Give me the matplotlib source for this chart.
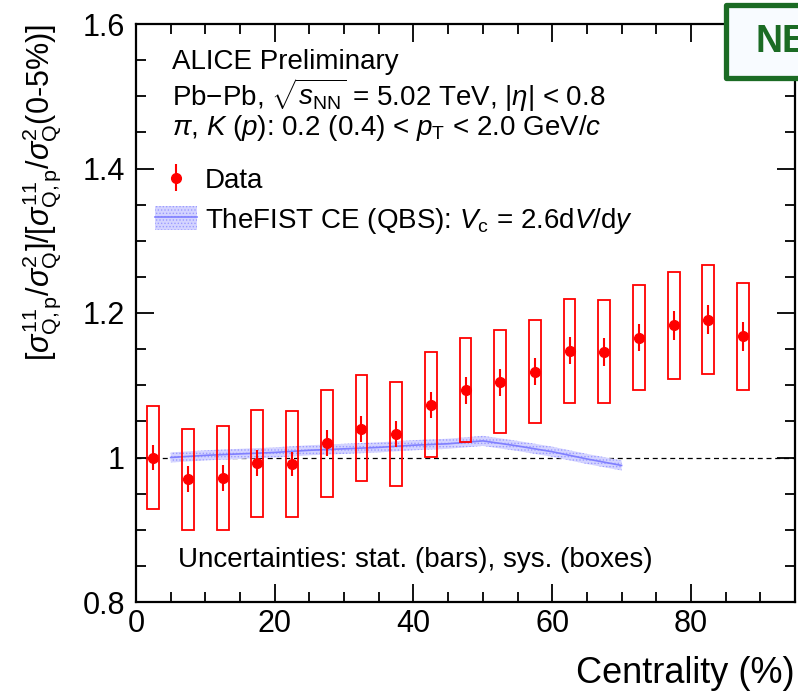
import matplotlib
matplotlib.use("Agg")
import matplotlib.pyplot as plt
import numpy as np
from matplotlib.patches import Rectangle, Patch
from matplotlib.lines import Line2D
from matplotlib.ticker import MultipleLocator

plt.rcParams['font.family'] = ['Liberation Sans', 'DejaVu Sans']
plt.rcParams['mathtext.fontset'] = 'custom'
plt.rcParams['mathtext.rm'] = 'Liberation Sans'
plt.rcParams['mathtext.it'] = 'Liberation Sans:italic'
plt.rcParams['mathtext.bf'] = 'Liberation Sans:bold'
plt.rcParams['hatch.linewidth'] = 0.6

# data
cent = [2.5, 7.5, 12.5, 17.5, 22.5, 27.5, 32.5, 37.5, 42.5,
        47.5, 52.5, 57.5, 62.5, 67.5, 72.5, 77.5, 82.5, 87.5]
ratio = [1.000, 0.970, 0.972, 0.992, 0.991, 1.020, 1.040, 1.033, 1.073,
         1.093, 1.104, 1.119, 1.148, 1.146, 1.166, 1.183, 1.191, 1.168]
stat = [0.017, 0.018, 0.018, 0.018, 0.017, 0.018, 0.018, 0.018, 0.018,
        0.019, 0.019, 0.019, 0.019, 0.019, 0.019, 0.020, 0.020, 0.020]
sys_hi = [1.071, 1.040, 1.044, 1.066, 1.064, 1.094, 1.114, 1.105, 1.146,
          1.165, 1.176, 1.190, 1.219, 1.218, 1.239, 1.257, 1.266, 1.241]
sys_lo = [0.929, 0.899, 0.900, 0.918, 0.918, 0.945, 0.967, 0.961, 1.001,
          1.021, 1.034, 1.048, 1.076, 1.075, 1.093, 1.109, 1.116, 1.093]

# TheFIST CE (QBS) band
model_x = [5, 10, 15, 20, 25, 30, 35, 40, 45, 50, 55, 60, 65, 70]
model_y = [1.000, 1.003, 1.005, 1.007, 1.010, 1.012, 1.014, 1.017, 1.019,
           1.023, 1.016, 1.008, 0.998, 0.989]
model_err = 0.007

red = '#ff0000'
blue = '#8080ff'
band_face = '#d4d4ff'
band_dots = '#9a9aff'
green = '#1b6b24'

fig = plt.figure(figsize=(7.98, 6.92), dpi=100)
ax = fig.add_axes([136/798, 90/692, 659/798, 578/692])

ax.axhline(1.0, color='black', ls=(0, (4, 3)), lw=0.9, zorder=1)

my = np.array(model_y)
ax.fill_between(model_x, my - model_err, my + model_err, facecolor=band_face,
                edgecolor=band_dots, hatch='.....', lw=0, zorder=2)
ax.plot(model_x, model_y, color=blue, lw=1.2, zorder=3)

boxw = 0.85
for c, lo, hi in zip(cent, sys_lo, sys_hi):
    ax.add_patch(Rectangle((c - boxw, lo), 2 * boxw, hi - lo, fill=False,
                           edgecolor=red, lw=1.3, zorder=4))
eb = ax.errorbar(cent, ratio, yerr=stat, fmt='o', color=red, ms=7,
                 elinewidth=1.5, capsize=0, zorder=5)

ax.set_xlim(0, 95)
ax.set_ylim(0.8, 1.6)
ax.xaxis.set_major_locator(MultipleLocator(20))
ax.xaxis.set_minor_locator(MultipleLocator(5))
ax.yaxis.set_minor_locator(MultipleLocator(0.05))
ax.set_yticks([0.8, 1.0, 1.2, 1.4, 1.6])
ax.set_yticklabels(['0.8', '1', '1.2', '1.4', '1.6'])
ax.tick_params(which='both', direction='in', top=True, right=True,
               labelsize=22, width=1.3)
ax.tick_params(which='major', length=13, pad=5)
ax.tick_params(axis='y', which='major', pad=8)
ax.tick_params(which='minor', length=7)
for s in ax.spines.values():
    s.set_linewidth(1.6)

ax.set_xlabel('Centrality (%)', fontsize=26, loc='right', labelpad=12)
ax.set_ylabel(r'$[\sigma^{11}_{\mathrm{Q,p}}/\sigma^{2}_{\mathrm{Q}}]/[\sigma^{11}_{\mathrm{Q,p}}/\sigma^{2}_{\mathrm{Q}}(\mathrm{0\text{-}5\%})]$',
              fontsize=22, loc='top', labelpad=14)

fs = 20
ax.text(0.055, 0.934, 'ALICE Preliminary', transform=ax.transAxes, fontsize=fs, va='center')
ax.text(0.055, 0.877, r'Pb$-$Pb, $\sqrt{s_{\mathrm{NN}}}$ = 5.02 TeV, $|\eta|$ < 0.8',
        transform=ax.transAxes, fontsize=fs, va='center')
ax.text(0.055, 0.820, r'$\pi$, $K$ ($p$): 0.2 (0.4) < $p_{\mathrm{T}}$ < 2.0 GeV/$c$',
        transform=ax.transAxes, fontsize=fs, va='center')
ax.text(0.064, 0.073, 'Uncertainties: stat. (bars), sys. (boxes)',
        transform=ax.transAxes, fontsize=fs, va='center')

band_handle = (Patch(facecolor=band_face, edgecolor=band_dots, hatch='.....', lw=0),
               Line2D([], [], color=blue, lw=1.2))
ax.legend([eb, band_handle],
          ['Data', r'TheFIST CE (QBS): $V_{\mathrm{c}}$ = 2.6d$V$/d$y$'],
          loc='upper left', bbox_to_anchor=(0.029, 0.753), frameon=False,
          fontsize=fs, handlelength=1.5, handleheight=0.95, handletextpad=0.3,
          labelspacing=0.42, borderpad=0, borderaxespad=0)

# "NEW" badge, cut by the right edge
fig.patches.append(Rectangle((726/798, 614/692), 0.2, 73/692, transform=fig.transFigure,
                             facecolor='#f8fbff', edgecolor=green, lw=3.8,
                             joinstyle='round', zorder=10))
fig.text(756/798, 650/692, 'NEW', color=green, fontsize=27, fontweight='bold',
         va='center', ha='left', zorder=11)

fig.savefig('out.png', dpi=100)
